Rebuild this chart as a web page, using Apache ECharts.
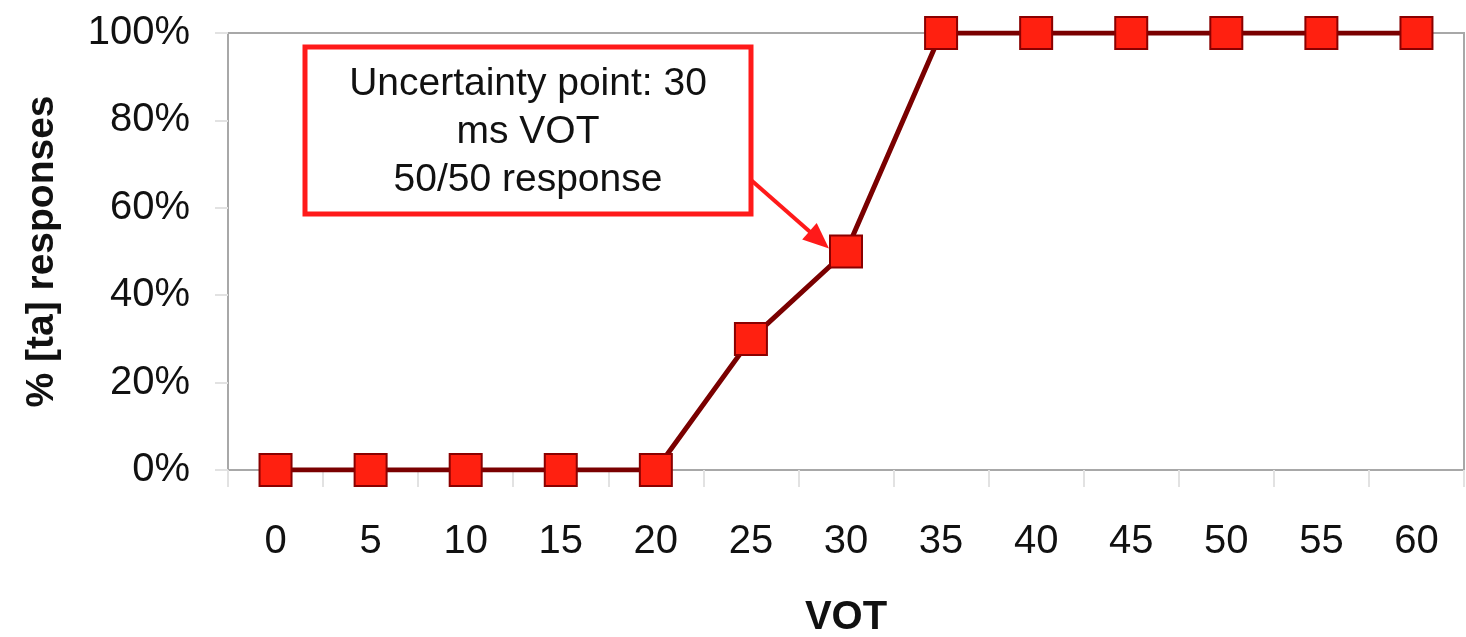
<!DOCTYPE html>
<html>
<head>
<meta charset="utf-8">
<script src="https://cdn.jsdelivr.net/npm/echarts@6/dist/echarts.min.js"></script>
<style>
html,body{margin:0;padding:0;background:#fff;}
#c{width:1466px;height:637px;}
</style>
</head>
<body>
<div id="c"></div>
<script>
const categories = ['0','5','10','15','20','25','30','35','40','45','50','55','60'];
const responses = [0,0,0,0,0,30,50,100,100,100,100,100,100];
const yTicks = [0,20,40,60,80,100];
const annotationLines = ['Uncertainty point: 30','ms VOT','50/50 response'];
const annotationTarget = ['30', 50];

const FONT = '"Liberation Sans", Arial, sans-serif';
const chart = echarts.init(document.getElementById('c'));
const option = {
  animation: false,
  backgroundColor: '#fff',
  grid: {left: 228, right: 2, top: 33, bottom: 167, containLabel: false, outerBoundsMode: 'none',
         show: true, borderColor: '#a8a8a8', borderWidth: 2, backgroundColor: 'transparent'},
  xAxis: {
    type: 'category',
    data: categories,
    boundaryGap: true,
    name: 'VOT',
    nameLocation: 'middle',
    nameGap: 128,
    nameTextStyle: {fontFamily: FONT, fontSize: 40, fontWeight: 'bold', color: '#111'},
    axisLine: {show: true, lineStyle: {color: '#a8a8a8', width: 2}},
    axisTick: {show: true, length: 17, alignWithLabel: false, lineStyle: {color: '#e2e2e2', width: 2}},
    axisLabel: {margin: 52, fontFamily: FONT, fontSize: 40, color: '#111'},
    splitLine: {show: false}
  },
  yAxis: {
    type: 'value',
    min: 0, max: 100, interval: 20,
    name: '% [ta] responses',
    nameLocation: 'middle',
    nameGap: 166,
    nameRotate: 90,
    nameTextStyle: {fontFamily: FONT, fontSize: 39, fontWeight: 'bold', color: '#111'},
    axisLine: {show: true, lineStyle: {color: '#a8a8a8', width: 2}},
    axisTick: {show: true, length: 13, lineStyle: {color: '#e2e2e2', width: 2}},
    axisLabel: {margin: 38, fontFamily: FONT, fontSize: 40, color: '#111', formatter: v => yTicks.includes(v) ? v + '%' : ''},
    splitLine: {show: false}
  },
  series: [{
    type: 'line',
    data: responses,
    symbol: 'rect',
    symbolSize: 32,
    lineStyle: {color: '#7a0000', width: 5},
    itemStyle: {color: '#ff2010', borderColor: '#8a0000', borderWidth: 2},
    z: 5
  }]
};
chart.setOption(option);

// Annotation box + arrow
const tgt = chart.convertToPixel({xAxisIndex: 0, yAxisIndex: 0}, annotationTarget);
const box = {x: 305, y: 47, w: 446, h: 167};
const tip = [tgt[0] - 17, tgt[1] - 3];
const start = [box.x + box.w, box.y + 133];
const dx = tip[0] - start[0], dy = tip[1] - start[1];
const len = Math.sqrt(dx*dx + dy*dy);
const ux = dx/len, uy = dy/len;
const headLen = 26, headW = 11;
const base = [tip[0] - ux*headLen, tip[1] - uy*headLen];
const px = -uy, py = ux;
chart.setOption({
  graphic: [
    {type: 'rect', shape: {x: box.x, y: box.y, width: box.w, height: box.h},
     style: {fill: '#fff', stroke: '#ff1a1a', lineWidth: 5}, z: 100},
    {type: 'text', x: box.x + box.w/2, y: box.y + box.h/2 + 2, z: 101,
     style: {text: annotationLines.join('\n'), fontFamily: FONT, fontSize: 39, lineHeight: 48,
             fill: '#111', align: 'center', verticalAlign: 'middle'}},
    {type: 'line', shape: {x1: start[0], y1: start[1], x2: base[0] + ux*4, y2: base[1] + uy*4},
     style: {stroke: '#ff1a1a', lineWidth: 4}, z: 100},
    {type: 'polygon', shape: {points: [tip, [base[0] + px*headW, base[1] + py*headW], [base[0] - px*headW, base[1] - py*headW]]},
     style: {fill: '#ff1a1a'}, z: 100}
  ]
});
</script>
</body>
</html>
